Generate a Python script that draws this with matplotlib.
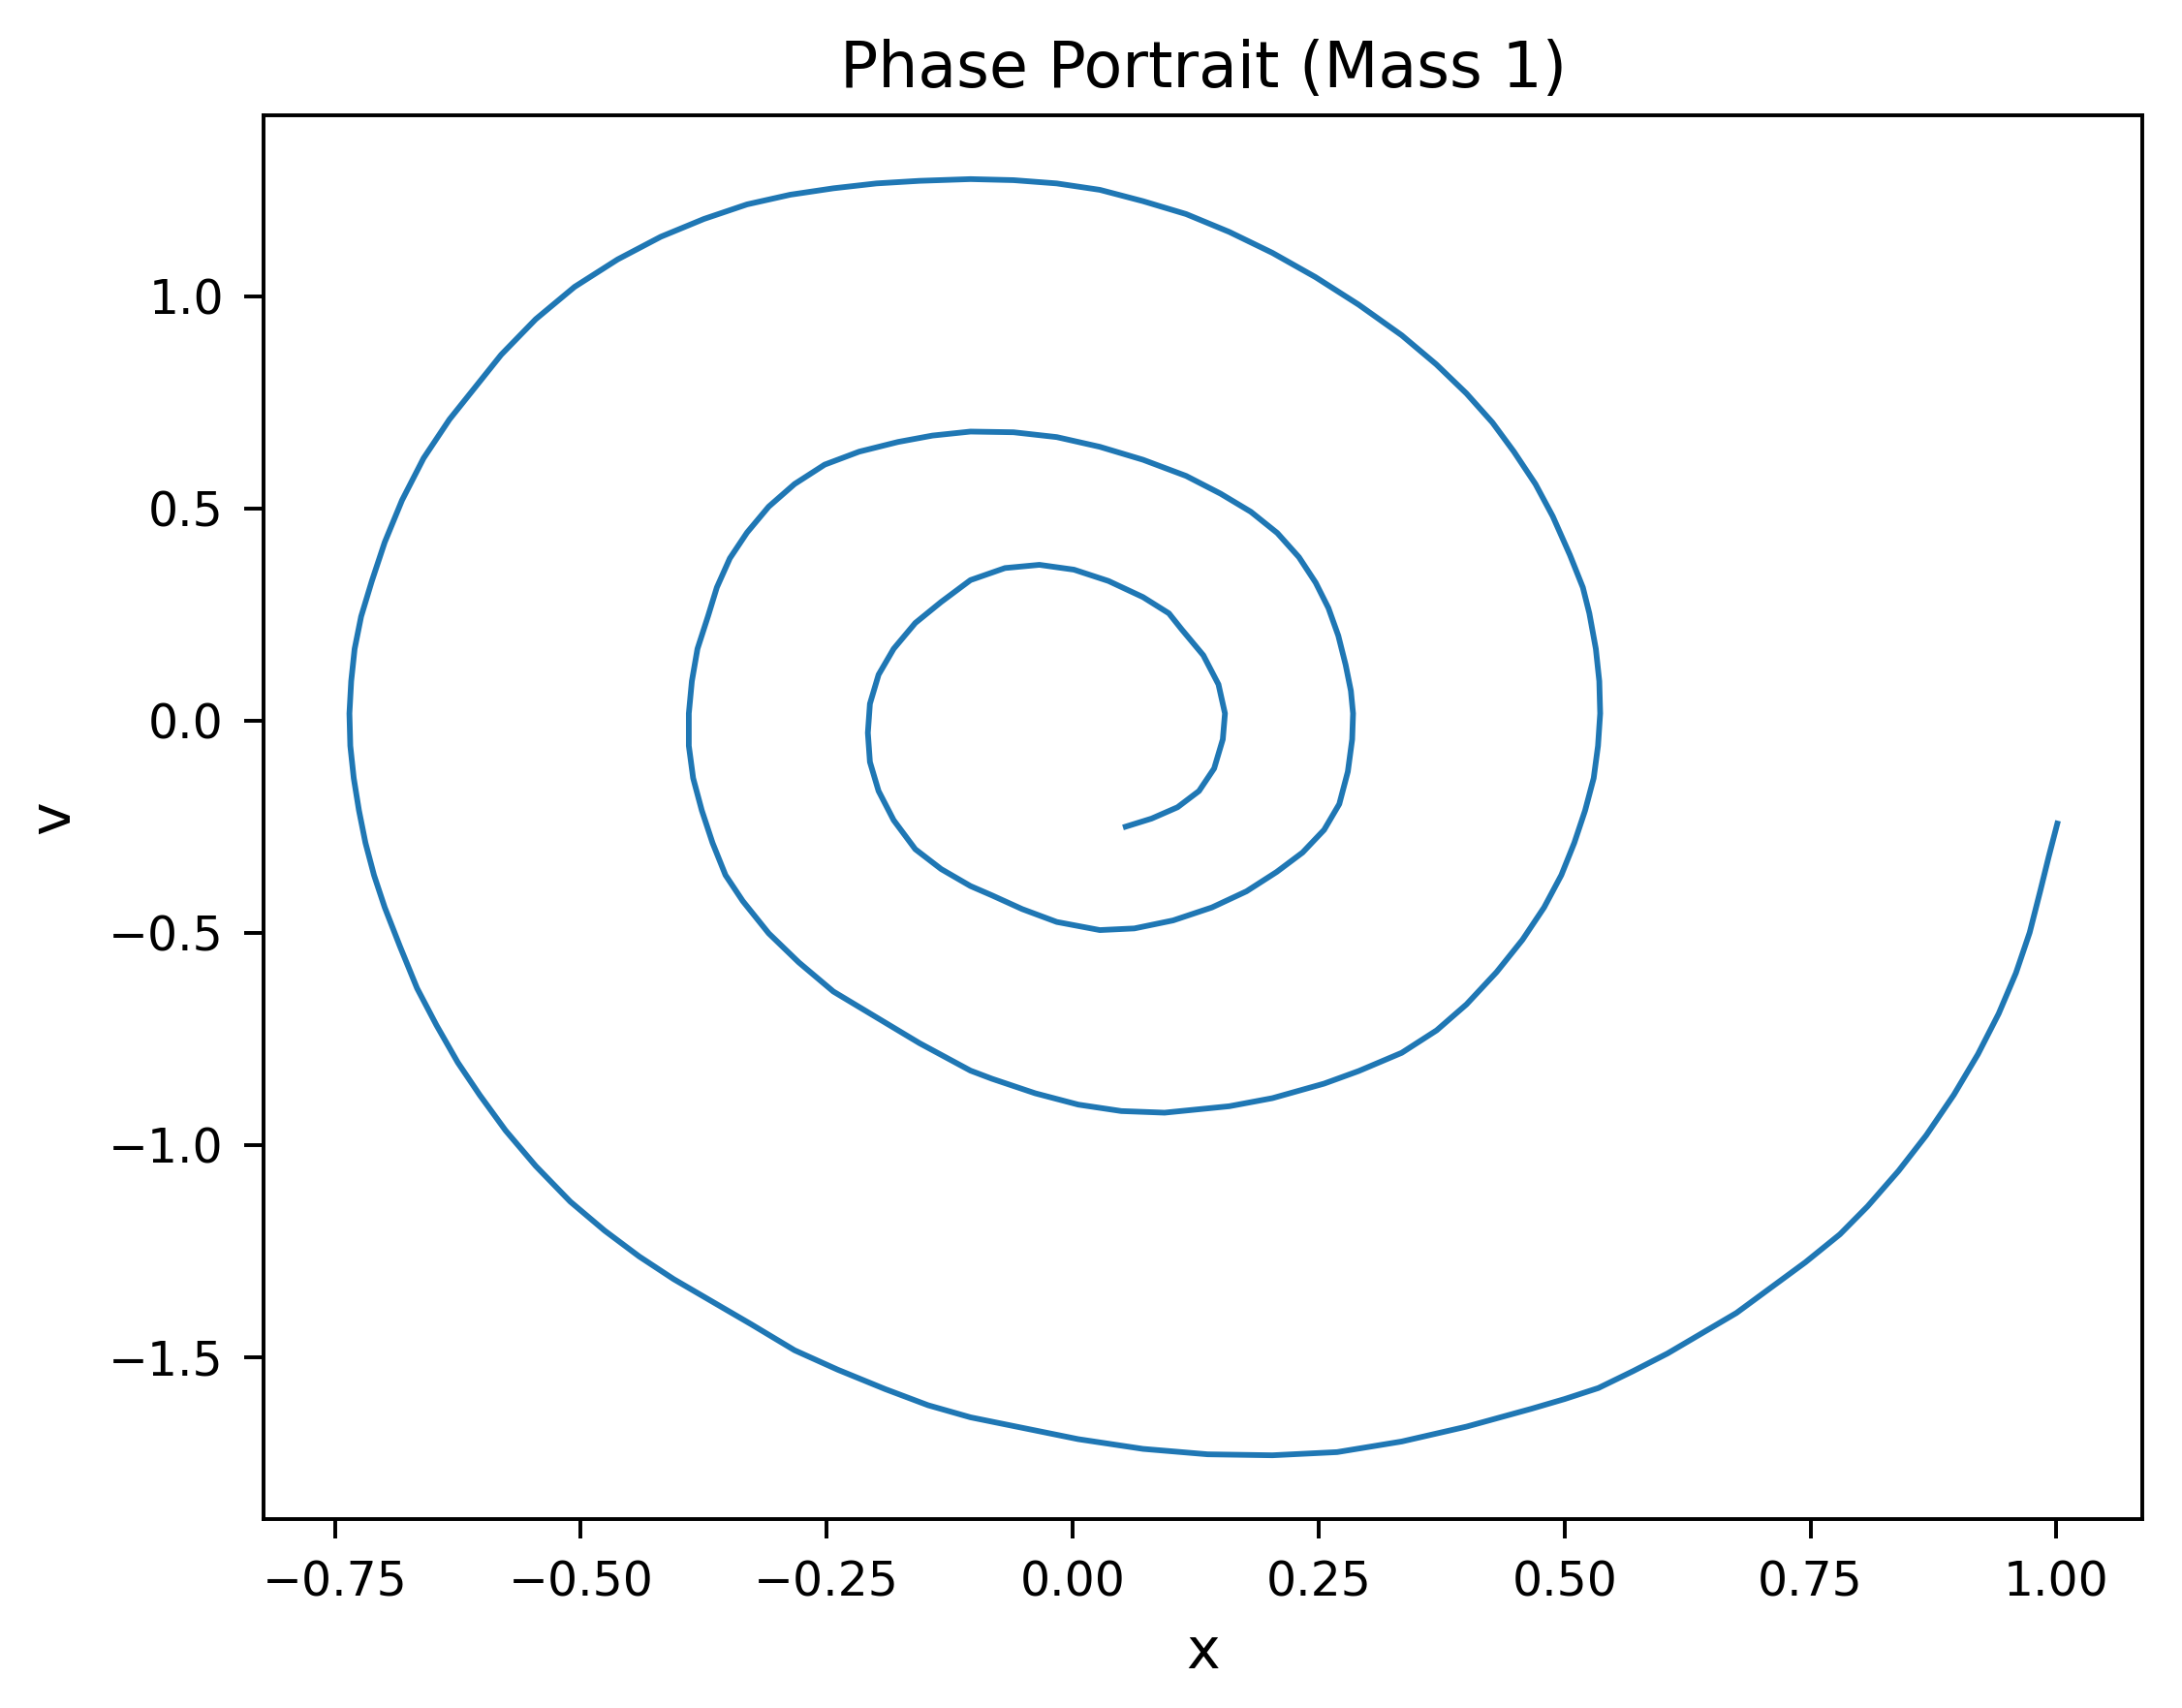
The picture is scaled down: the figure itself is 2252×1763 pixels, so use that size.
import numpy as np
import matplotlib
matplotlib.use("Agg")
import matplotlib.pyplot as plt

x_vals = [1.0009, 0.9922, 0.9833, 0.9728, 0.9588, 0.9413, 0.9202, 0.8957, 0.8676, 0.8395,
          0.8080, 0.7799, 0.7449, 0.7098, 0.6747, 0.6396, 0.6046, 0.5695, 0.5344, 0.5000,
          0.4661, 0.4003, 0.3345, 0.2688, 0.2030, 0.1372, 0.0715, 0.0057, -0.0513, -0.1039,
          -0.1469, -0.1907, -0.2389, -0.2827, -0.3266, -0.3661, -0.4055, -0.4406, -0.4757, -0.5107,
          -0.5458, -0.5765, -0.6028, -0.6250, -0.6467, -0.6664, -0.6839, -0.6993, -0.7102, -0.7189,
          -0.7255, -0.7308, -0.7343, -0.7352, -0.7334, -0.7299, -0.7233, -0.7124, -0.6993, -0.6817,
          -0.6598, -0.6335, -0.6072, -0.5809, -0.5458, -0.5063, -0.4625, -0.4187, -0.3748, -0.3310,
          -0.2871, -0.2433, -0.1995, -0.1557, -0.1039, -0.0601, -0.0162, 0.0276, 0.0715, 0.1153,
          0.1592, 0.2030, 0.2468, 0.2907, 0.3345, 0.3696, 0.4003, 0.4267, 0.4485, 0.4704,
          0.4880, 0.5055, 0.5186, 0.5252, 0.5318, 0.5353, 0.5362, 0.5340, 0.5296, 0.5209,
          0.5099, 0.4967, 0.4792, 0.4572, 0.4309, 0.4003, 0.3700, 0.3345, 0.2907, 0.2556,
          0.2030, 0.1592, 0.0934, 0.0495, 0.0057, -0.0381, -0.0820, -0.1039, -0.1557, -0.1995,
          -0.2433, -0.2784, -0.3090, -0.3354, -0.3529, -0.3661, -0.3770, -0.3858, -0.3902, -0.3902,
          -0.3871, -0.3814, -0.3704, -0.3617, -0.3485, -0.3310, -0.3090, -0.2827, -0.2521, -0.2170,
          -0.1776, -0.1425, -0.1039, -0.0601, -0.0162, 0.0276, 0.0715, 0.1153, 0.1504, 0.1811,
          0.2080, 0.2300, 0.2470, 0.2600, 0.2700, 0.2775, 0.2828, 0.2850, 0.2841, 0.2797,
          0.2710, 0.2556, 0.2337, 0.2074, 0.1767, 0.1416, 0.1021, 0.0627, 0.0276, -0.0162,
          -0.0513, -0.0820, -0.1039, -0.1337, -0.1600, -0.1820, -0.1973, -0.2061, -0.2082, -0.2061,
          -0.1973, -0.1820, -0.1600, -0.1337, -0.1039, -0.0688, -0.0338, 0.0013, 0.0364, 0.0715,
          0.0978, 0.1109, 0.1328, 0.1482, 0.1548, 0.1526, 0.1438, 0.1284, 0.1066, 0.0802,
          0.0539]
v_vals = [-0.2427, -0.3204, -0.4039, -0.4995, -0.5951, -0.6907, -0.7864, -0.8820, -0.9776, -1.0613,
          -1.1449, -1.2108, -1.2765, -1.3362, -1.3961, -1.4438, -1.4916, -1.5333, -1.5730, -1.5990,
          -1.6220, -1.6640, -1.6990, -1.7240, -1.7315, -1.7292, -1.7164, -1.6935, -1.6668, -1.6420,
          -1.6136, -1.5754, -1.5297, -1.4840, -1.4230, -1.3697, -1.3165, -1.2630, -1.2022, -1.1337,
          -1.0498, -0.9660, -0.8823, -0.8060, -0.7180, -0.6310, -0.5318, -0.4404, -0.3643, -0.2882,
          -0.2118, -0.1357, -0.0596, 0.0167, 0.0927, 0.1690, 0.2452, 0.3288, 0.4202, 0.5193,
          0.6183, 0.7097, 0.7859, 0.8622, 0.9459, 1.0221, 1.0868, 1.1401, 1.1821, 1.2164,
          1.2392, 1.2543, 1.2658, 1.2719, 1.2760, 1.2735, 1.2658, 1.2507, 1.2240, 1.1936,
          1.1515, 1.1022, 1.0450, 0.9801, 0.9079, 0.8394, 0.7708, 0.7023, 0.6337, 0.5574,
          0.4813, 0.3899, 0.3137, 0.2527, 0.1690, 0.0928, 0.0167, -0.0596, -0.1357, -0.2118,
          -0.2882, -0.3643, -0.4404, -0.5167, -0.5928, -0.6689, -0.7300, -0.7830, -0.8260, -0.8556,
          -0.8899, -0.9089, -0.9241, -0.9203, -0.9051, -0.8784, -0.8442, -0.8250, -0.7603, -0.6995,
          -0.6385, -0.5699, -0.5014, -0.4252, -0.3643, -0.2882, -0.2118, -0.1357, -0.0596, 0.0167,
          0.0928, 0.1690, 0.2480, 0.3137, 0.3823, 0.4431, 0.5041, 0.5574, 0.6031, 0.6337,
          0.6565, 0.6716, 0.6810, 0.6794, 0.6680, 0.6451, 0.6146, 0.5765, 0.5346, 0.4920,
          0.4420, 0.3850, 0.3250, 0.2650, 0.2000, 0.1309, 0.0700, 0.0167, -0.0443, -0.1204,
          -0.1968, -0.2575, -0.3110, -0.3567, -0.4024, -0.4404, -0.4710, -0.4899, -0.4938, -0.4746,
          -0.4443, -0.4120, -0.3900, -0.3500, -0.3032, -0.2347, -0.1661, -0.0976, -0.0290, 0.0395,
          0.1081, 0.1690, 0.2299, 0.2795, 0.3310, 0.3594, 0.3670, 0.3556, 0.3289, 0.2909,
          0.2527, 0.2146, 0.1538, 0.0852, 0.0167, -0.0443, -0.1129, -0.1661, -0.2043, -0.2310,
          -0.2500]

fig = plt.figure(figsize=(2252 / 352, 1763 / 352), dpi=352)
ax = fig.add_subplot(111)
fig.subplots_adjust(left=0.121, right=0.982, top=0.9325, bottom=0.1106)

ax.plot(x_vals, v_vals, color='#1f77b4', linewidth=1.2)
ax.set_title('Phase Portrait (Mass 1)', fontsize=13.3)
ax.set_xlabel('x', fontsize=12)
ax.set_ylabel('v', fontsize=12, labelpad=6)
ax.tick_params(length=4, pad=4.5)

fig.savefig('out.png', dpi=352)
